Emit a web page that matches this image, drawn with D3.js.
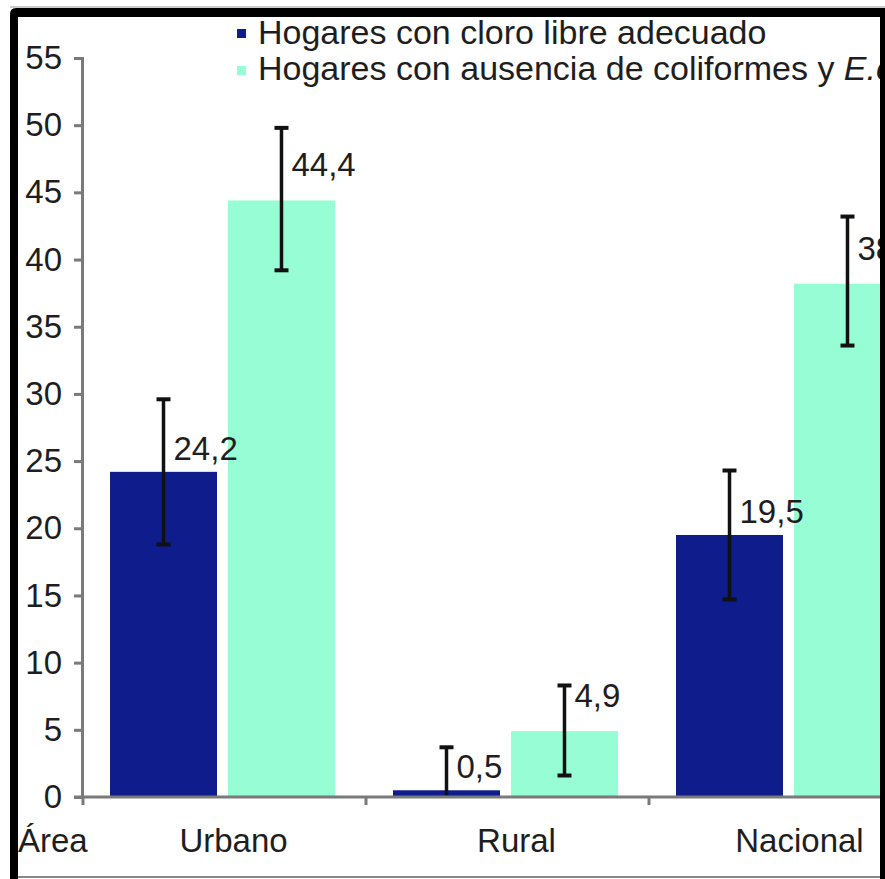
<!DOCTYPE html>
<html><head><meta charset="utf-8">
<script src="https://cdn.jsdelivr.net/npm/d3@7"></script>
<style>
html,body{margin:0;padding:0;background:#fff;}
text{font-family:"Liberation Sans",Arial,sans-serif;fill:#1e1e1e;}
</style></head>
<body>
<svg id="chart" width="885" height="879"></svg>
<script>
const categories = ["Urbano", "Rural", "Nacional"];
const seriesNames = ["Hogares con cloro libre adecuado", "Hogares con ausencia de coliformes y "];
const seriesItalic = ["", "E.coli"];
const cloroValues = [24.2, 0.5, 19.5];
const coliValues = [44.4, 4.9, 38.2];
const cloroLow = [18.8, 0, 14.7];
const cloroHigh = [29.6, 3.7, 24.3];
const coliLow = [39.2, 1.6, 33.6];
const coliHigh = [49.8, 8.3, 43.2];
const cloroLabels = ["24,2", "0,5", "19,5"];
const coliLabels = ["44,4", "4,9", "38,2"];
const yTicks = [0, 5, 10, 15, 20, 25, 30, 35, 40, 45, 50, 55];
const axisTitle = "Área";
const colors = ["#0e1c8c", "#97fdd4"];

const svg = d3.select("#chart");
svg.append("rect").attr("width", 885).attr("height", 879).attr("fill", "#fff");

const keys = ["cloro", "coli"];
const rows = categories.map((c, i) => ({
  cat: c,
  cloro: {v: cloroValues[i], lo: cloroLow[i], hi: cloroHigh[i], lab: cloroLabels[i]},
  coli: {v: coliValues[i], lo: coliLow[i], hi: coliHigh[i], lab: coliLabels[i]}
}));

const x0 = d3.scaleBand().domain(categories).range([83, 932]);
const x1 = d3.scaleBand().domain(keys).range([27, 252]).paddingInner(0.093);
const y = d3.scaleLinear().domain([0, 55]).range([797, 58]);
const color = d3.scaleOrdinal().domain(keys).range(colors);

const clip = svg.append("defs").append("clipPath").attr("id", "plotclip");
clip.append("rect").attr("x", 18).attr("y", 17).attr("width", 862).attr("height", 860);

const g = svg.append("g").attr("clip-path", "url(#plotclip)");

// bars
const groups = g.selectAll("g.cat").data(rows).join("g")
  .attr("class", "cat")
  .attr("transform", d => `translate(${x0(d.cat)},0)`);

groups.selectAll("rect").data(d => keys.map(k => ({k, ...d[k]}))).join("rect")
  .attr("x", d => x1(d.k))
  .attr("width", x1.bandwidth())
  .attr("y", d => y(d.v))
  .attr("height", d => y(0) - y(d.v))
  .attr("fill", d => color(d.k));

// axes
const yAxis = d3.axisLeft(y).tickValues(yTicks).tickSize(8).tickPadding(12).tickFormat(d3.format("d"));
const ya = g.append("g").attr("transform", "translate(82,0)").call(yAxis);
ya.select(".domain").attr("stroke", "#7a7a7a").attr("stroke-width", 3);
ya.selectAll(".tick line").attr("stroke", "#7a7a7a").attr("stroke-width", 3);
ya.selectAll(".tick text").style("font-size", "33px").attr("fill", "#1e1e1e")
  .attr("font-family", "Liberation Sans, Arial, sans-serif");

// x axis line
g.append("line").attr("x1", 74).attr("x2", 885).attr("y1", y(0)).attr("y2", y(0))
  .attr("stroke", "#7a7a7a").attr("stroke-width", 3);
g.selectAll("line.xt").data(categories).join("line").attr("class", "xt")
  .attr("x1", d => x0(d)).attr("x2", d => x0(d))
  .attr("y1", y(0)).attr("y2", y(0) + 8)
  .attr("stroke", "#7a7a7a").attr("stroke-width", 3);

// x labels
g.selectAll("text.xl").data(categories).join("text").attr("class", "xl")
  .attr("x", d => x0(d) + x0.bandwidth() / 2 + 9)
  .attr("y", 852)
  .attr("text-anchor", "middle")
  .style("font-size", "33px")
  .text(d => d);
g.append("text").attr("x", 18).attr("y", 852).style("font-size", "33px").text(axisTitle);

// error bars
const eb = groups.selectAll("g.eb").data(d => keys.map(k => ({k, ...d[k]}))).join("g").attr("class", "eb")
  .attr("transform", d => `translate(${x1(d.k) + x1.bandwidth() / 2},0)`);
eb.append("line").attr("x1", 0).attr("x2", 0)
  .attr("y1", d => y(d.hi)).attr("y2", d => y(d.lo))
  .attr("stroke", "#111").attr("stroke-width", 3.5);
eb.append("line").attr("x1", -7).attr("x2", 7)
  .attr("y1", d => y(d.hi)).attr("y2", d => y(d.hi))
  .attr("stroke", "#111").attr("stroke-width", 4);
eb.filter(d => d.lo > 0).append("line").attr("x1", -7).attr("x2", 7)
  .attr("y1", d => y(d.lo)).attr("y2", d => y(d.lo))
  .attr("stroke", "#111").attr("stroke-width", 4);

// value labels
eb.append("text")
  .attr("x", 10)
  .attr("y", d => y(d.v) - (d.k === "cloro" ? 12 : 24))
  .style("font-size", "33px")
  .text(d => d.lab);

// legend
const leg = g.append("g");
seriesNames.forEach((s, i) => {
  leg.append("rect").attr("x", 237).attr("y", 29 + i * 37).attr("width", 9).attr("height", 9)
    .attr("fill", colors[i]);
  const t = leg.append("text").attr("x", 258).attr("y", 44 + i * 36).style("font-size", "34px");
  t.append("tspan").text(s);
  if (seriesItalic[i]) t.append("tspan").style("font-style", "italic").text(seriesItalic[i]);
});

// frame
svg.append("path")
  .attr("d", "M10,879 L10,14 Q10,8 16,8 L885,8 L885,17 L18,17 L18,879 Z")
  .attr("fill", "#000");
svg.append("rect").attr("x", 880).attr("y", 8).attr("width", 5).attr("height", 871).attr("fill", "#000");
svg.append("line").attr("x1", 18).attr("x2", 880).attr("y1", 877).attr("y2", 877)
  .attr("stroke", "#888").attr("stroke-width", 2);
svg.append("line").attr("x1", 10).attr("x2", 885).attr("y1", 7).attr("y2", 7)
  .attr("stroke", "#999").attr("stroke-width", 1);
</script>
</body></html>
